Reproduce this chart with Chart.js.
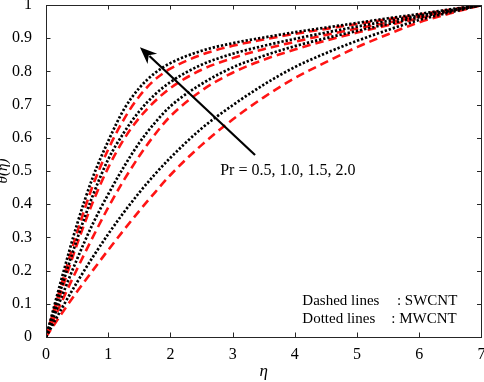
<!DOCTYPE html>
<html>
<head>
<meta charset="utf-8">
<script src="https://cdn.jsdelivr.net/npm/chart.js@4/dist/chart.umd.min.js"></script>
<style>
  html, body { margin: 0; padding: 0; background: #fff; }
  #wrap { width: 484px; height: 382px; }
</style>
</head>
<body>
<div id="wrap"><canvas id="chart" width="484" height="382"></canvas></div>
<script>
const eta = [0, 0.25, 0.5, 0.75, 1, 1.25, 1.5, 1.75, 2, 2.5, 3, 3.5, 4, 4.5, 5, 5.5, 6, 6.5, 7];

// dashed lines : SWCNT, Pr = 0.5, 1.0, 1.5, 2.0
const swcntPr05 = [0, 0.07, 0.137, 0.2, 0.262, 0.322, 0.38, 0.435, 0.488, 0.578, 0.655, 0.722, 0.78, 0.828, 0.873, 0.912, 0.948, 0.975, 1];
const swcntPr10 = [0, 0.105, 0.205, 0.3, 0.39, 0.472, 0.545, 0.61, 0.665, 0.742, 0.796, 0.835, 0.866, 0.893, 0.917, 0.939, 0.96, 0.98, 1];
const swcntPr15 = [0, 0.14, 0.28, 0.405, 0.51, 0.595, 0.66, 0.71, 0.75, 0.805, 0.84, 0.867, 0.889, 0.91, 0.929, 0.947, 0.965, 0.982, 1];
const swcntPr20 = [0, 0.16, 0.315, 0.455, 0.565, 0.655, 0.725, 0.775, 0.808, 0.85, 0.877, 0.896, 0.913, 0.928, 0.943, 0.957, 0.971, 0.986, 1];

// dotted lines : MWCNT
const mwcntPr05 = [0, 0.085, 0.165, 0.24, 0.31, 0.375, 0.435, 0.49, 0.54, 0.628, 0.698, 0.76, 0.813, 0.855, 0.892, 0.925, 0.955, 0.978, 1];
const mwcntPr10 = [0, 0.12, 0.235, 0.34, 0.43, 0.512, 0.585, 0.645, 0.695, 0.762, 0.812, 0.847, 0.876, 0.9, 0.922, 0.943, 0.963, 0.982, 1];
const mwcntPr15 = [0, 0.15, 0.295, 0.425, 0.535, 0.615, 0.68, 0.73, 0.768, 0.82, 0.853, 0.877, 0.898, 0.917, 0.935, 0.952, 0.968, 0.984, 1];
const mwcntPr20 = [0, 0.175, 0.34, 0.48, 0.59, 0.685, 0.75, 0.795, 0.825, 0.862, 0.885, 0.902, 0.918, 0.932, 0.946, 0.96, 0.973, 0.987, 1];

const xTicks = [1, 2, 3, 4, 5, 6];
const yTicks = [0.1, 0.2, 0.3, 0.4, 0.5, 0.6, 0.7, 0.8, 0.9];

const serif = '"Liberation Serif", "DejaVu Serif", serif';

function toPoints(values) {
  return values.map((v, i) => ({ x: eta[i], y: v }));
}

function dashed(values) {
  return {
    data: toPoints(values),
    borderColor: '#ff1414',
    borderWidth: 2.6,
    borderDash: [8.5, 5],
    pointRadius: 0,
    cubicInterpolationMode: 'monotone',
  };
}

function dotted(values) {
  return {
    data: toPoints(values),
    borderColor: '#000',
    borderWidth: 2.7,
    borderDash: [2.3, 1.9],
    pointRadius: 0,
    cubicInterpolationMode: 'monotone',
  };
}

// inward ticks + box like matlab
const frame = {
  id: 'frame',
  afterDatasetsDraw(chart) {
    const { ctx, chartArea: a, scales: { x, y } } = chart;
    ctx.save();
    ctx.strokeStyle = '#262626';
    ctx.lineWidth = 1;
    ctx.beginPath();
    xTicks.forEach(v => {
      const px = Math.round(x.getPixelForValue(v)) + 0.5;
      ctx.moveTo(px, a.bottom); ctx.lineTo(px, a.bottom - 4.5);
      ctx.moveTo(px, a.top); ctx.lineTo(px, a.top + 4.5);
    });
    yTicks.forEach(v => {
      const py = Math.round(y.getPixelForValue(v)) + 0.5;
      ctx.moveTo(a.left, py); ctx.lineTo(a.left + 4.5, py);
      ctx.moveTo(a.right, py); ctx.lineTo(a.right - 4.5, py);
    });
    ctx.stroke();
    ctx.strokeRect(Math.round(a.left) + 0.5, Math.round(a.top) + 0.5, Math.round(a.right - a.left) - 1, Math.round(a.bottom - a.top));
    ctx.restore();
  },
  afterDraw(chart) {
    const { ctx, scales: { x, y } } = chart;
    ctx.save();

    // arrow, Pr increasing
    const x0 = x.getPixelForValue(3.36), y0 = y.getPixelForValue(0.548);
    const x1 = x.getPixelForValue(1.51), y1 = y.getPixelForValue(0.873);
    const ang = Math.atan2(y1 - y0, x1 - x0);
    const headLen = 17, headW = 7;
    const bx = x1 - headLen * Math.cos(ang), by = y1 - headLen * Math.sin(ang);
    ctx.strokeStyle = '#000';
    ctx.fillStyle = '#000';
    ctx.lineWidth = 2.2;
    ctx.beginPath();
    ctx.moveTo(x0, y0);
    ctx.lineTo(bx + 4 * Math.cos(ang), by + 4 * Math.sin(ang));
    ctx.stroke();
    ctx.beginPath();
    ctx.moveTo(x1, y1);
    ctx.lineTo(bx - headW * Math.sin(ang), by + headW * Math.cos(ang));
    ctx.lineTo(bx + 5 * Math.cos(ang), by + 5 * Math.sin(ang));
    ctx.lineTo(bx + headW * Math.sin(ang), by - headW * Math.cos(ang));
    ctx.closePath();
    ctx.fill();

    ctx.fillStyle = '#000';
    ctx.font = '16px ' + serif;
    ctx.textBaseline = 'middle';
    ctx.textAlign = 'left';
    ctx.fillText('Pr = 0.5, 1.0, 1.5, 2.0', x.getPixelForValue(2.8), y.getPixelForValue(0.5));

    ctx.font = '15px ' + serif;
    ctx.fillText('Dashed lines', x.getPixelForValue(4.12), y.getPixelForValue(0.108));
    ctx.fillText(': SWCNT', x.getPixelForValue(5.64), y.getPixelForValue(0.108));
    ctx.fillText('Dotted lines', x.getPixelForValue(4.12), y.getPixelForValue(0.053));
    ctx.fillText(': MWCNT', x.getPixelForValue(5.55), y.getPixelForValue(0.053));
    ctx.restore();
  },
};

new Chart(document.getElementById('chart'), {
  type: 'line',
  data: {
    datasets: [
      dotted(mwcntPr05), dotted(mwcntPr10), dotted(mwcntPr15), dotted(mwcntPr20),
      dashed(swcntPr05), dashed(swcntPr10), dashed(swcntPr15), dashed(swcntPr20),
    ],
  },
  options: {
    responsive: false,
    animation: false,
    layout: { padding: { top: 5, right: 2.5, left: 0, bottom: 0 } },
    plugins: { legend: { display: false }, tooltip: { enabled: false } },
    scales: {
      x: {
        type: 'linear',
        min: 0,
        max: 7,
        grid: { display: false, drawTicks: false },
        border: { display: false },
        ticks: { stepSize: 1, padding: 8, color: '#000', font: { family: serif, size: 16 } },
        title: { display: true, text: 'η', color: '#000', padding: 0, font: { family: serif, size: 17, style: 'italic' } },
        afterFit(scale) {
          scale.height = 45;
          scale.paddingLeft = 0;
          scale.paddingRight = 0;
        },
      },
      y: {
        min: 0,
        max: 1,
        grid: { display: false, drawTicks: false },
        border: { display: false },
        ticks: {
          stepSize: 0.1,
          padding: 14,
          color: '#000',
          font: { family: serif, size: 16 },
          callback: v => String(Number(v.toFixed(1))),
        },
        title: { display: true, text: 'θ(η)', color: '#000', padding: { top: -2.5, bottom: 0 }, font: { family: serif, size: 15, style: 'italic', lineHeight: 0.8 } },
        afterFit(scale) {
          scale.width = 46;
          scale.paddingTop = 0;
          scale.paddingBottom = 0;
        },
      },
    },
  },
  plugins: [frame],
});
</script>
</body>
</html>
